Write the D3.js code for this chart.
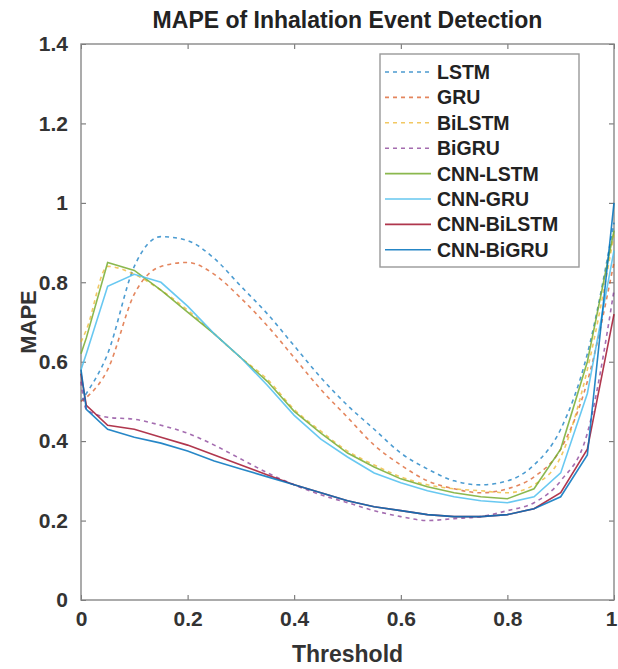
<!DOCTYPE html>
<html>
<head>
<meta charset="utf-8">
<script src="https://cdn.jsdelivr.net/npm/d3@7"></script>
<style>
  body { margin: 0; background: #fff; }
  text { font-family: "Liberation Sans", Arial, sans-serif; font-weight: bold; }
</style>
</head>
<body>
<script>
// threshold values (x axis)
var thresholds = [0, 0.01, 0.05, 0.1, 0.15, 0.2, 0.25, 0.3, 0.35, 0.4, 0.45, 0.5,
                  0.55, 0.6, 0.65, 0.7, 0.75, 0.8, 0.85, 0.9, 0.95, 1];

var names = ["LSTM", "GRU", "BiLSTM", "BiGRU", "CNN-LSTM", "CNN-GRU", "CNN-BiLSTM", "CNN-BiGRU"];
var colors = ["#0072bd", "#d95319", "#edb120", "#7e2f8e", "#77ac30", "#4dbeee", "#a2142f", "#0072bd"];
var dashed = [true, true, true, true, false, false, false, false];

// MAPE per model
var lstm = [0.50, 0.52, 0.62, 0.84, 0.915, 0.905, 0.86, 0.79, 0.72, 0.64, 0.56, 0.49,
            0.43, 0.37, 0.33, 0.30, 0.29, 0.30, 0.34, 0.43, 0.62, 0.95];
var gru = [0.50, 0.51, 0.58, 0.77, 0.84, 0.85, 0.82, 0.76, 0.69, 0.61, 0.53, 0.46,
           0.39, 0.34, 0.30, 0.28, 0.27, 0.28, 0.31, 0.38, 0.55, 0.85];
var bilstm = [0.65, 0.68, 0.84, 0.82, 0.78, 0.73, 0.67, 0.61, 0.555, 0.48, 0.425, 0.375,
              0.34, 0.31, 0.29, 0.28, 0.275, 0.27, 0.29, 0.36, 0.58, 0.92];
var bigru = [0.55, 0.48, 0.46, 0.455, 0.44, 0.42, 0.39, 0.355, 0.32, 0.29, 0.265, 0.245,
             0.225, 0.21, 0.20, 0.205, 0.21, 0.225, 0.245, 0.30, 0.42, 0.78];
var cnnLstm = [0.62, 0.66, 0.85, 0.83, 0.78, 0.725, 0.67, 0.61, 0.55, 0.475, 0.42, 0.37,
               0.335, 0.305, 0.285, 0.27, 0.26, 0.255, 0.28, 0.38, 0.60, 0.93];
var cnnGru = [0.58, 0.62, 0.79, 0.82, 0.80, 0.74, 0.67, 0.61, 0.54, 0.465, 0.405, 0.36,
              0.32, 0.295, 0.275, 0.26, 0.25, 0.245, 0.26, 0.32, 0.52, 0.88];
var cnnBilstm = [0.57, 0.49, 0.44, 0.43, 0.41, 0.39, 0.365, 0.34, 0.315, 0.29, 0.27, 0.25,
                 0.235, 0.225, 0.215, 0.21, 0.21, 0.215, 0.23, 0.27, 0.38, 0.72];
var cnnBigru = [0.58, 0.48, 0.43, 0.41, 0.395, 0.375, 0.35, 0.33, 0.31, 0.29, 0.27, 0.25,
                0.235, 0.225, 0.215, 0.21, 0.21, 0.215, 0.23, 0.26, 0.365, 1.0];

var series = [lstm, gru, bilstm, bigru, cnnLstm, cnnGru, cnnBilstm, cnnBigru];

var xTicks = [0, 0.2, 0.4, 0.6, 0.8, 1];
var yTicks = [0, 0.2, 0.4, 0.6, 0.8, 1, 1.2, 1.4];

var margin = { top: 44, right: 4, bottom: 69, left: 81 };
var W = 618, H = 669;
var width = W - margin.left - margin.right,
    height = H - margin.top - margin.bottom;

var svg = d3.select("body").append("svg")
    .attr("width", W)
    .attr("height", H);

var g = svg.append("g")
    .attr("transform", "translate(" + margin.left + "," + margin.top + ")");

var xScale = d3.scaleLinear().domain([0, 1]).range([0, width]);
var yScale = d3.scaleLinear().domain([0, 1.4]).range([height, 0]);

var fmt = function(d) { return d3.format("~g")(d); };

// axes, MATLAB style: ticks pointing inward on every side
var tickLen = 5;
var xAx = g.append("g")
    .attr("transform", "translate(0," + height + ")")
    .call(d3.axisBottom(xScale).tickValues(xTicks).tickSizeInner(-tickLen).tickSizeOuter(0).tickPadding(11).tickFormat(fmt))
    .call(function(a) { a.select(".domain").remove(); });
// last label sits on the window edge; nudge it in a little
xAx.selectAll(".tick text").filter(function(d) { return d === 1; }).attr("dx", -3);

g.append("g")
    .call(d3.axisTop(xScale).tickValues(xTicks).tickSizeInner(-tickLen).tickSizeOuter(0).tickFormat(""))
    .call(function(a) { a.select(".domain").remove(); });
g.append("g")
    .call(d3.axisLeft(yScale).tickValues(yTicks).tickSizeInner(-tickLen).tickSizeOuter(0).tickPadding(13).tickFormat(fmt))
    .call(function(a) { a.select(".domain").remove(); });
g.append("g")
    .attr("transform", "translate(" + width + ",0)")
    .call(d3.axisRight(yScale).tickValues(yTicks).tickSizeInner(-tickLen).tickSizeOuter(0).tickFormat(""))
    .call(function(a) { a.select(".domain").remove(); });

g.selectAll(".tick line").attr("stroke", "#666");
g.selectAll(".tick text").attr("fill", "#333").style("font-size", "21px");

g.append("rect")
    .attr("width", width)
    .attr("height", height)
    .attr("fill", "none")
    .attr("stroke", "#888")
    .attr("stroke-width", 1.4);

var lineSolid = d3.line()
    .x(function(d, i) { return xScale(thresholds[i]); })
    .y(function(d) { return yScale(d); });
var lineSmooth = d3.line()
    .curve(d3.curveMonotoneX)
    .x(function(d, i) { return xScale(thresholds[i]); })
    .y(function(d) { return yScale(d); });

series.forEach(function(s, k) {
  g.append("path")
    .datum(s)
    .attr("fill", "none")
    .attr("stroke", colors[k])
    .attr("stroke-width", 1.6)
    .attr("stroke-dasharray", dashed[k] ? "4,4" : null)
    .attr("opacity", dashed[k] ? 0.7 : 0.85)
    .attr("d", dashed[k] ? lineSmooth : lineSolid);
});

// title and labels
svg.append("text")
    .attr("x", margin.left + width / 2)
    .attr("y", 28)
    .attr("text-anchor", "middle")
    .attr("fill", "#222")
    .style("font-size", "23px")
    .text("MAPE of Inhalation Event Detection");

svg.append("text")
    .attr("x", margin.left + width / 2)
    .attr("y", 662)
    .attr("text-anchor", "middle")
    .attr("fill", "#333")
    .style("font-size", "23px")
    .text("Threshold");

svg.append("text")
    .attr("transform", "translate(36," + (margin.top + height / 2) + ") rotate(-90)")
    .attr("text-anchor", "middle")
    .attr("fill", "#333")
    .style("font-size", "22px")
    .text("MAPE");

// legend
var lg = svg.append("g").attr("transform", "translate(380,54)");
lg.append("rect")
    .attr("width", 199)
    .attr("height", 213)
    .attr("fill", "#fff")
    .attr("stroke", "#999")
    .attr("stroke-width", 1.4);

names.forEach(function(n, k) {
  var y = 18 + k * 25.4;
  lg.append("line")
    .attr("x1", 5).attr("x2", 51)
    .attr("y1", y).attr("y2", y)
    .attr("stroke", colors[k])
    .attr("stroke-width", 1.6)
    .attr("stroke-dasharray", dashed[k] ? "4,4" : null)
    .attr("opacity", dashed[k] ? 0.7 : 0.85);
  lg.append("text")
    .attr("x", 57)
    .attr("y", y + 7)
    .attr("fill", "#222")
    .style("font-size", "19.5px")
    .text(n);
});
</script>
</body>
</html>
